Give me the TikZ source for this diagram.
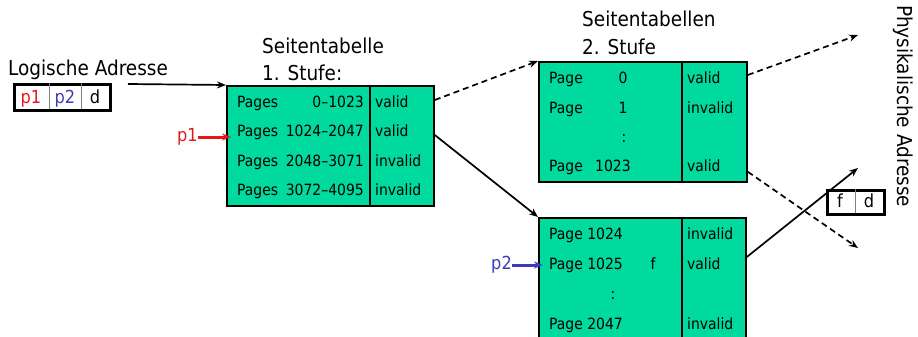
\documentclass[tikz,border=0pt]{standalone}
\usepackage{fontspec}
\setmainfont{DejaVu Sans Condensed}
\usetikzlibrary{arrows.meta}
\definecolor{tabgreen}{RGB}{0,218,158}
\definecolor{pred}{RGB}{225,25,25}
\definecolor{pblue}{RGB}{60,60,185}
\begin{document}
\begin{tikzpicture}
[x=1pt,y=-1pt,
every node/.style={inner sep=0pt,font=\fontsize{15.5}{18}\selectfont},
big/.style={font=\fontsize{20.5}{24}\selectfont},
mid/.style={font=\fontsize{18}{22}\selectfont},
pagetab/.style={draw,fill=tabgreen,line width=1.8pt,anchor=north west},
addrbox/.style={draw,line width=3.2pt,anchor=north west},
link/.style={-{Stealth[length=9pt,width=7pt]},line width=1.7pt},
dlink/.style={link,dash pattern=on 6pt off 4pt}]
\useasboundingbox (0,0) rectangle (918,337);

% logische Adresse
\node[big,anchor=base west] (lalabel) at (8,75) {Logische Adresse};
\node[addrbox,minimum width=96pt,minimum height=26pt] (addr) at (13,83) {};
\draw[gray,line width=0.7pt] (49,83) -- (49,109) (81,83) -- (81,109);
\node[mid,anchor=base,text=pred] (ap1) at (31,103) {p1};
\node[mid,anchor=base,text=pblue] (ap2) at (65,103) {p2};
\node[mid,anchor=base] (ad) at (95,103) {d};
\coordinate (lastart) at (128,84);

% Seitentabelle 1. Stufe
\node[big,anchor=base west] (t1head) at (262,53) {Seitentabelle};
\node[big,anchor=base west] (t1stufe) at (262,81) {1. Stufe:};
\node[pagetab,minimum width=207pt,minimum height=120pt] (t1) at (226,85) {};
\draw[line width=1.8pt] (370,85) -- (370,205);
\foreach \y/\range/\flag [count=\i] in
  {107/0–1023/valid, 136.5/1024–2047/valid,
   166/2048–3071/invalid, 195.5/3072–4095/invalid}{
  \node[anchor=base west] (t1p\i) at (237,\y) {Pages};
  \node[anchor=base east] (t1r\i) at (364,\y) {\range};
  \node[anchor=base west] (t1v\i) at (375,\y) {\flag};
}

% p1
\node[mid,text=pred,anchor=east] (p1) at (198,137) {p1};
\coordinate (p1in) at (231,137);

% Seitentabellen 2. Stufe
\node[big,anchor=base west] (t2head) at (582,27) {Seitentabellen};
\node[big,anchor=base west] (t2stufe) at (582,55) {2. Stufe};

\node[pagetab,minimum width=208pt,minimum height=120pt] (t2a) at (538,61) {};
\draw[line width=1.8pt] (682,61) -- (682,181);
\node[anchor=base west] (t2ap1) at (549,83) {Page};
\node[anchor=base] (t2an1) at (623,83) {0};
\node[anchor=base west] (t2av1) at (687,83) {valid};
\node[anchor=base west] (t2ap2) at (549,113) {Page};
\node[anchor=base] (t2an2) at (623,113) {1};
\node[anchor=base west] (t2av2) at (687,113) {invalid};
\node[anchor=base] (t2adots) at (624,142) {:};
\node[anchor=base west] (t2ap4) at (549,171) {Page};
\node[anchor=base west] (t2an4) at (595,171) {1023};
\node[anchor=base west] (t2av4) at (687,171) {valid};

\node[pagetab,minimum width=207pt,minimum height=124pt] (t2b) at (538,217) {};
\draw[line width=1.8pt] (682,217) -- (682,341);
\node[anchor=base west] (t2bp1) at (549,239) {Page 1024};
\node[anchor=base west] (t2bv1) at (687,239) {invalid};
\node[anchor=base west] (t2bp2) at (549,269) {Page 1025};
\node[anchor=base] (t2bf) at (653,269) {f};
\node[anchor=base west] (t2bv2) at (687,269) {valid};
\node[anchor=base] (t2bdots) at (613,299) {:};
\node[anchor=base west] (t2bp4) at (549,329) {Page 2047};
\node[anchor=base west] (t2bv4) at (687,329) {invalid};

% p2
\node[mid,text=pblue,anchor=east] (p2) at (512,265) {p2};
\coordinate (p2in) at (543,265);

% physikalische Adresse
\node[addrbox,minimum width=57pt,minimum height=24pt] (phys) at (826,189) {};
\draw[gray,line width=0.7pt] (855,189) -- (855,213);
\node[mid,anchor=base] (pf) at (840,207) {f};
\node[mid,anchor=base] (pd) at (869,207) {d};
\node[big,rotate=-90,anchor=west] (physlabel) at (903,5) {Physikalische Adresse};
\coordinate (out1) at (858,35);
\coordinate (out2) at (858,168);
\coordinate (out3) at (858,248);

% Verbindungen
\draw[link] (lastart) -- (t1.north west);
\draw[link,pred,line width=3pt] (p1) -- (p1in);
\draw[link,pblue,line width=3pt] (p2) -- (p2in);
\draw[dlink] ([yshift=-15pt]t1.north east) -- (t2a.north west);
\draw[link] ([yshift=-50pt]t1.north east) -- (t2b.north west);
\draw[dlink] ([yshift=-14pt]t2a.north east) -- (out1);
\draw[dlink] ([yshift=11pt]t2a.south east) -- (out3);
\draw[link] ([yshift=-40pt]t2b.north east) -- (out2);
\end{tikzpicture}
\end{document}
